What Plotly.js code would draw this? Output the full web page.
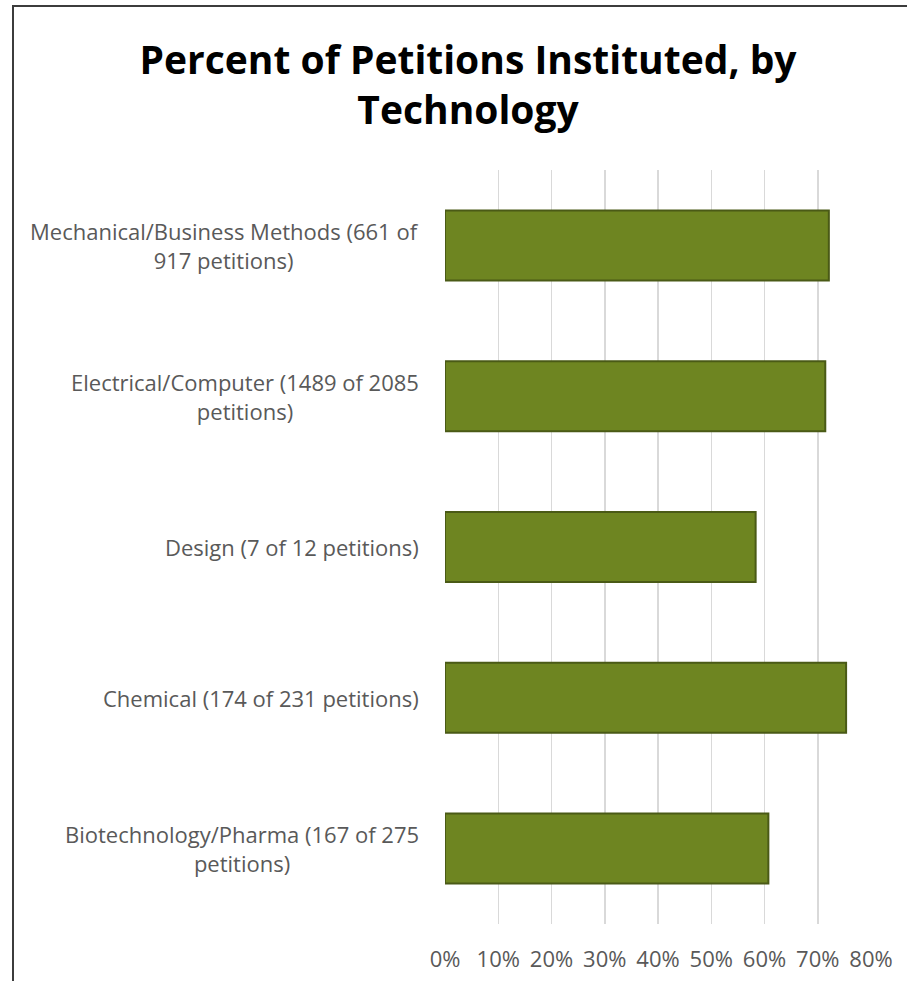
<!DOCTYPE html>
<html>
<head>
<meta charset="utf-8">
<script src="https://cdn.plot.ly/plotly-3.0.1.min.js"></script>
<style>
  html, body { margin: 0; padding: 0; background: #ffffff; }
  #wrap { position: relative; width: 907px; height: 981px; overflow: hidden; }
  #chart { position: absolute; left: 0; top: 0; width: 907px; height: 981px; }
  #frame { position: absolute; left: 12px; top: 5px; width: 900px; height: 990px;
           border-left: 2px solid #3c3c3c; border-top: 2px solid #3c3c3c; pointer-events: none; }
</style>
</head>
<body>
<div id="wrap">
  <div id="chart"></div>
  <div id="frame"></div>
</div>
<script>
// Data
const categories = ["Mechanical/Business Methods", "Electrical/Computer", "Design", "Chemical", "Biotechnology/Pharma"];
const labels = [
  "Mechanical/Business Methods (661 of<br>917 petitions)",
  "Electrical/Computer (1489 of 2085<br>petitions)",
  "Design (7 of 12 petitions)",
  "Chemical (174 of 231 petitions)",
  "Biotechnology/Pharma (167 of 275<br>petitions)"
];
const instituted = [661, 1489, 7, 174, 167];
const filed = [917, 2085, 12, 231, 275];
const percent = instituted.map((v, i) => v / filed[i]);
const tickVals = [0, 0.1, 0.2, 0.3, 0.4, 0.5, 0.6, 0.7, 0.8];
const tickText = ["0%", "10%", "20%", "30%", "40%", "50%", "60%", "70%", "80%"];

const labelFont = { family: "Open Sans, DejaVu Sans, sans-serif", size: 22, color: "#595959" };

const trace = {
  type: "bar",
  orientation: "h",
  y: categories,
  x: percent,
  marker: { color: "#6e8521", line: { color: "#4a5a16", width: 2 } },
  hoverinfo: "skip"
};

const annotations = categories.map((c, i) => ({
  xref: "paper", yref: "y",
  x: -0.0563, y: c,
  xanchor: "right", yanchor: "middle",
  align: "center",
  text: labels[i],
  showarrow: false,
  font: labelFont
}));

const layout = {
  width: 907, height: 981,
  margin: { l: 445, r: 36, t: 170, b: 57 },
  paper_bgcolor: "#ffffff",
  plot_bgcolor: "#ffffff",
  showlegend: false,
  bargap: 0.536,
  title: {
    text: "Percent of Petitions Instituted, by<br>Technology",
    font: { family: "Open Sans, DejaVu Sans, sans-serif", size: 39, color: "#000000", weight: "bold" },
    x: 0.516, xref: "container", xanchor: "center",
    y: 0.925, yref: "container", yanchor: "middle"
  },
  xaxis: {
    range: [0, 0.8],
    tickvals: tickVals,
    ticktext: tickText,
    showgrid: true,
    gridcolor: "#d9d9d9",
    gridwidth: 1.5,
    zeroline: false,
    showline: false,
    ticks: "",
    ticklabelstandoff: 20,
    tickfont: labelFont,
    fixedrange: true
  },
  yaxis: {
    type: "category",
    autorange: "reversed",
    showticklabels: false,
    showgrid: false,
    zeroline: false,
    showline: false,
    ticks: "",
    fixedrange: true
  },
  annotations: annotations
};

Plotly.newPlot("chart", [trace], layout, { displayModeBar: false, staticPlot: true });
</script>
</body>
</html>
